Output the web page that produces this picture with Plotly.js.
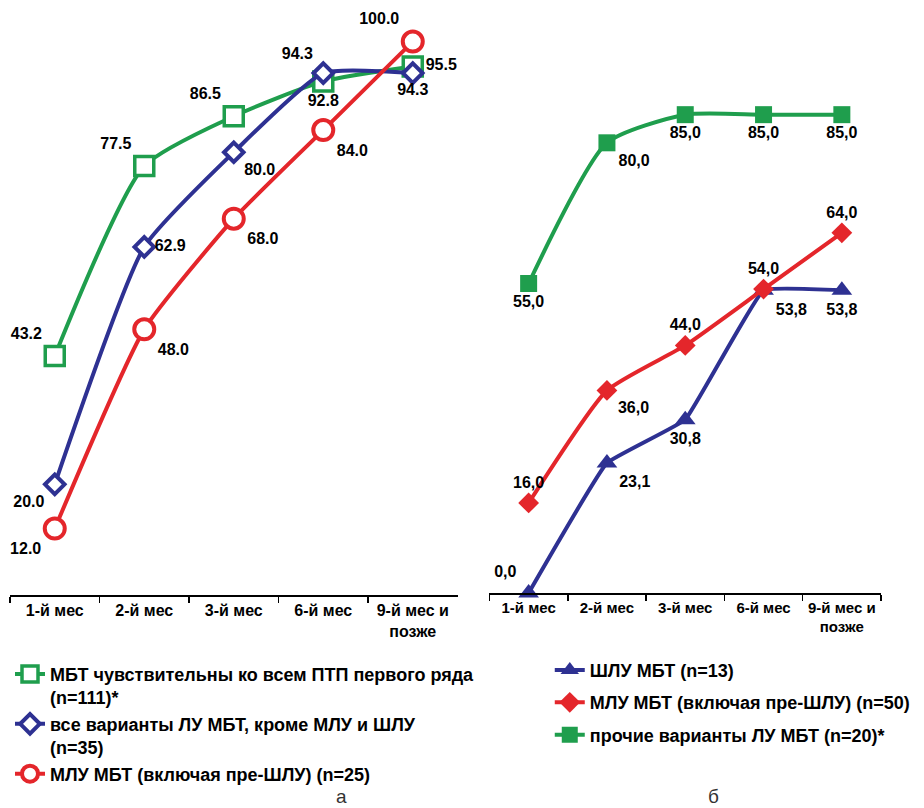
<!DOCTYPE html>
<html>
<head>
<meta charset="utf-8">
<script src="https://cdn.plot.ly/plotly-3.0.1.min.js"></script>
<style>html,body{margin:0;padding:0;background:#fff;}#chart{width:924px;height:808px;}</style>
</head>
<body>
<div id="chart"></div>
<script>
// ---- data ----
const periods = ['1-й мес', '2-й мес', '3-й мес', '6-й мес', '9-й мес и<br>позже'];

// Panel а
const sensitiveA = [43.2, 77.5, 86.5, 92.8, 95.5];
const otherResA = [20.0, 62.9, 80.0, 94.3, 94.3];
const mdrA = [12.0, 48.0, 68.0, 84.0, 100.0];
const namesA = [
  'МБТ чувствительны ко всем ПТП первого ряда<br>(n=111)*',
  'все варианты ЛУ МБТ, кроме МЛУ и ШЛУ<br>(n=35)',
  'МЛУ МБТ (включая пре-ШЛУ) (n=25)'
];

// Panel б
const xdrB = [0.0, 23.1, 30.8, 53.8, 53.8];
const mdrB = [16.0, 36.0, 44.0, 54.0, 64.0];
const otherB = [55.0, 80.0, 85.0, 85.0, 85.0];
const namesB = [
  'ШЛУ МБТ (n=13)',
  'МЛУ МБТ (включая пре-ШЛУ) (n=50)',
  'прочие варианты ЛУ МБТ (n=20)*'
];

// ---- styles ----
const GREEN = '#1f9e4d', BLUE = '#2e3192', RED = '#e4262b';
const FONT = 'Liberation Sans, Arial, sans-serif';
const lblFont = {family: FONT, size: 16, color: '#000', weight: 'bold'};
const fmtA = v => v.toFixed(1);
const fmtB = v => v.toFixed(1).replace('.', ',');

const posSensA = ['top left', 'top left', 'top left', 'bottom center', 'middle right'];
const posOtherA = ['bottom left', 'middle right', 'bottom right', 'top left', 'bottom center'];
const posMdrA = ['bottom left', 'bottom right', 'bottom right', 'bottom right', 'top left'];
const posXdrB = ['top left', 'bottom right', 'bottom center', 'bottom right', 'bottom center'];
const posMdrB = ['top center', 'bottom right', 'top center', 'top center', 'top center'];
const posOtherB = ['bottom center', 'bottom right', 'bottom center', 'bottom center', 'bottom center'];

function tr(y, name, color, marker, pos, fmt, ax, leg, grp, sm) {
  return {
    type: 'scatter', mode: 'lines+markers+text',
    x: periods, y: y, name: name,
    text: y.map(fmt), textposition: pos, textfont: lblFont,
    line: {color: color, width: 4, shape: 'spline', smoothing: sm},
    marker: marker, cliponaxis: false,
    xaxis: ax[0], yaxis: ax[1], legend: leg, legendgroup: grp,
    hoverinfo: 'skip'
  };
}

const data = [
  tr(sensitiveA, namesA[0], GREEN, {symbol: 'square', size: 19, color: '#fff', line: {color: GREEN, width: 3.5}}, posSensA, fmtA, ['x', 'y'], 'legend', 'a1', 0.6),
  tr(otherResA, namesA[1], BLUE, {symbol: 'diamond', size: 15, color: '#fff', line: {color: BLUE, width: 4}}, posOtherA, fmtA, ['x', 'y'], 'legend', 'a2', 0.5),
  tr(mdrA, namesA[2], RED, {symbol: 'circle', size: 20, color: '#fff', line: {color: RED, width: 4}}, posMdrA, fmtA, ['x', 'y'], 'legend', 'a3', 0.5),
  tr(xdrB, namesB[0], BLUE, {symbol: 'triangle-up', size: 18, color: BLUE}, posXdrB, fmtB, ['x2', 'y2'], 'legend2', 'b1', 0.25),
  tr(mdrB, namesB[1], RED, {symbol: 'diamond', size: 16, color: RED}, posMdrB, fmtB, ['x2', 'y2'], 'legend2', 'b2', 0.5),
  tr(otherB, namesB[2], GREEN, {symbol: 'square', size: 17, color: GREEN}, posOtherB, fmtB, ['x2', 'y2'], 'legend2', 'b3', 0.6)
];

const xax = {
  type: 'category', range: [-0.5, 4.5], showline: true, linecolor: '#000', linewidth: 1.5,
  ticks: 'outside', tickson: 'boundaries', ticklen: 6, tickcolor: '#000', tickwidth: 1.5,
  tickangle: 0,
  tickfont: {family: FONT, size: 16, color: '#000', weight: 'bold'},
  showgrid: false, zeroline: false, fixedrange: true
};
const legBase = {
  xanchor: 'left', yanchor: 'top', orientation: 'v', traceorder: 'grouped',
  bgcolor: 'rgba(0,0,0,0)', valign: 'top',
  font: {family: FONT, size: 18, color: '#000', weight: 'bold'}
};

const layout = {
  width: 924, height: 808,
  margin: {l: 10, r: 42, t: 10, b: 213},
  paper_bgcolor: '#fff', plot_bgcolor: '#fff',
  showlegend: true,
  xaxis: Object.assign({}, xax, {domain: [0, 0.5138], anchor: 'y'}),
  yaxis: {domain: [0, 1], range: [0, 105.7], visible: false, fixedrange: true},
  xaxis2: Object.assign({}, xax, {domain: [0.5505, 1], anchor: 'y2',
    tickfont: {family: FONT, size: 15, color: '#000', weight: 'bold'}}),
  yaxis2: {domain: [0.0034, 1], range: [0, 103.6], visible: false, fixedrange: true},
  legend: Object.assign({}, legBase, {x: 0, y: -0.104, tracegroupgap: 0}),
  legend2: Object.assign({}, legBase, {x: 0.619, y: -0.097, tracegroupgap: 6}),
  annotations: [
    {text: 'а', xref: 'paper', yref: 'paper', x: 0.3807, y: -0.3436, yanchor: 'middle', showarrow: false,
     font: {family: FONT, size: 19, color: '#333'}},
    {text: 'б', xref: 'paper', yref: 'paper', x: 0.8165, y: -0.3436, yanchor: 'middle', showarrow: false,
     font: {family: FONT, size: 19, color: '#333'}}
  ]
};

Plotly.newPlot('chart', data, layout, {staticPlot: true, displayModeBar: false});
</script>
</body>
</html>
